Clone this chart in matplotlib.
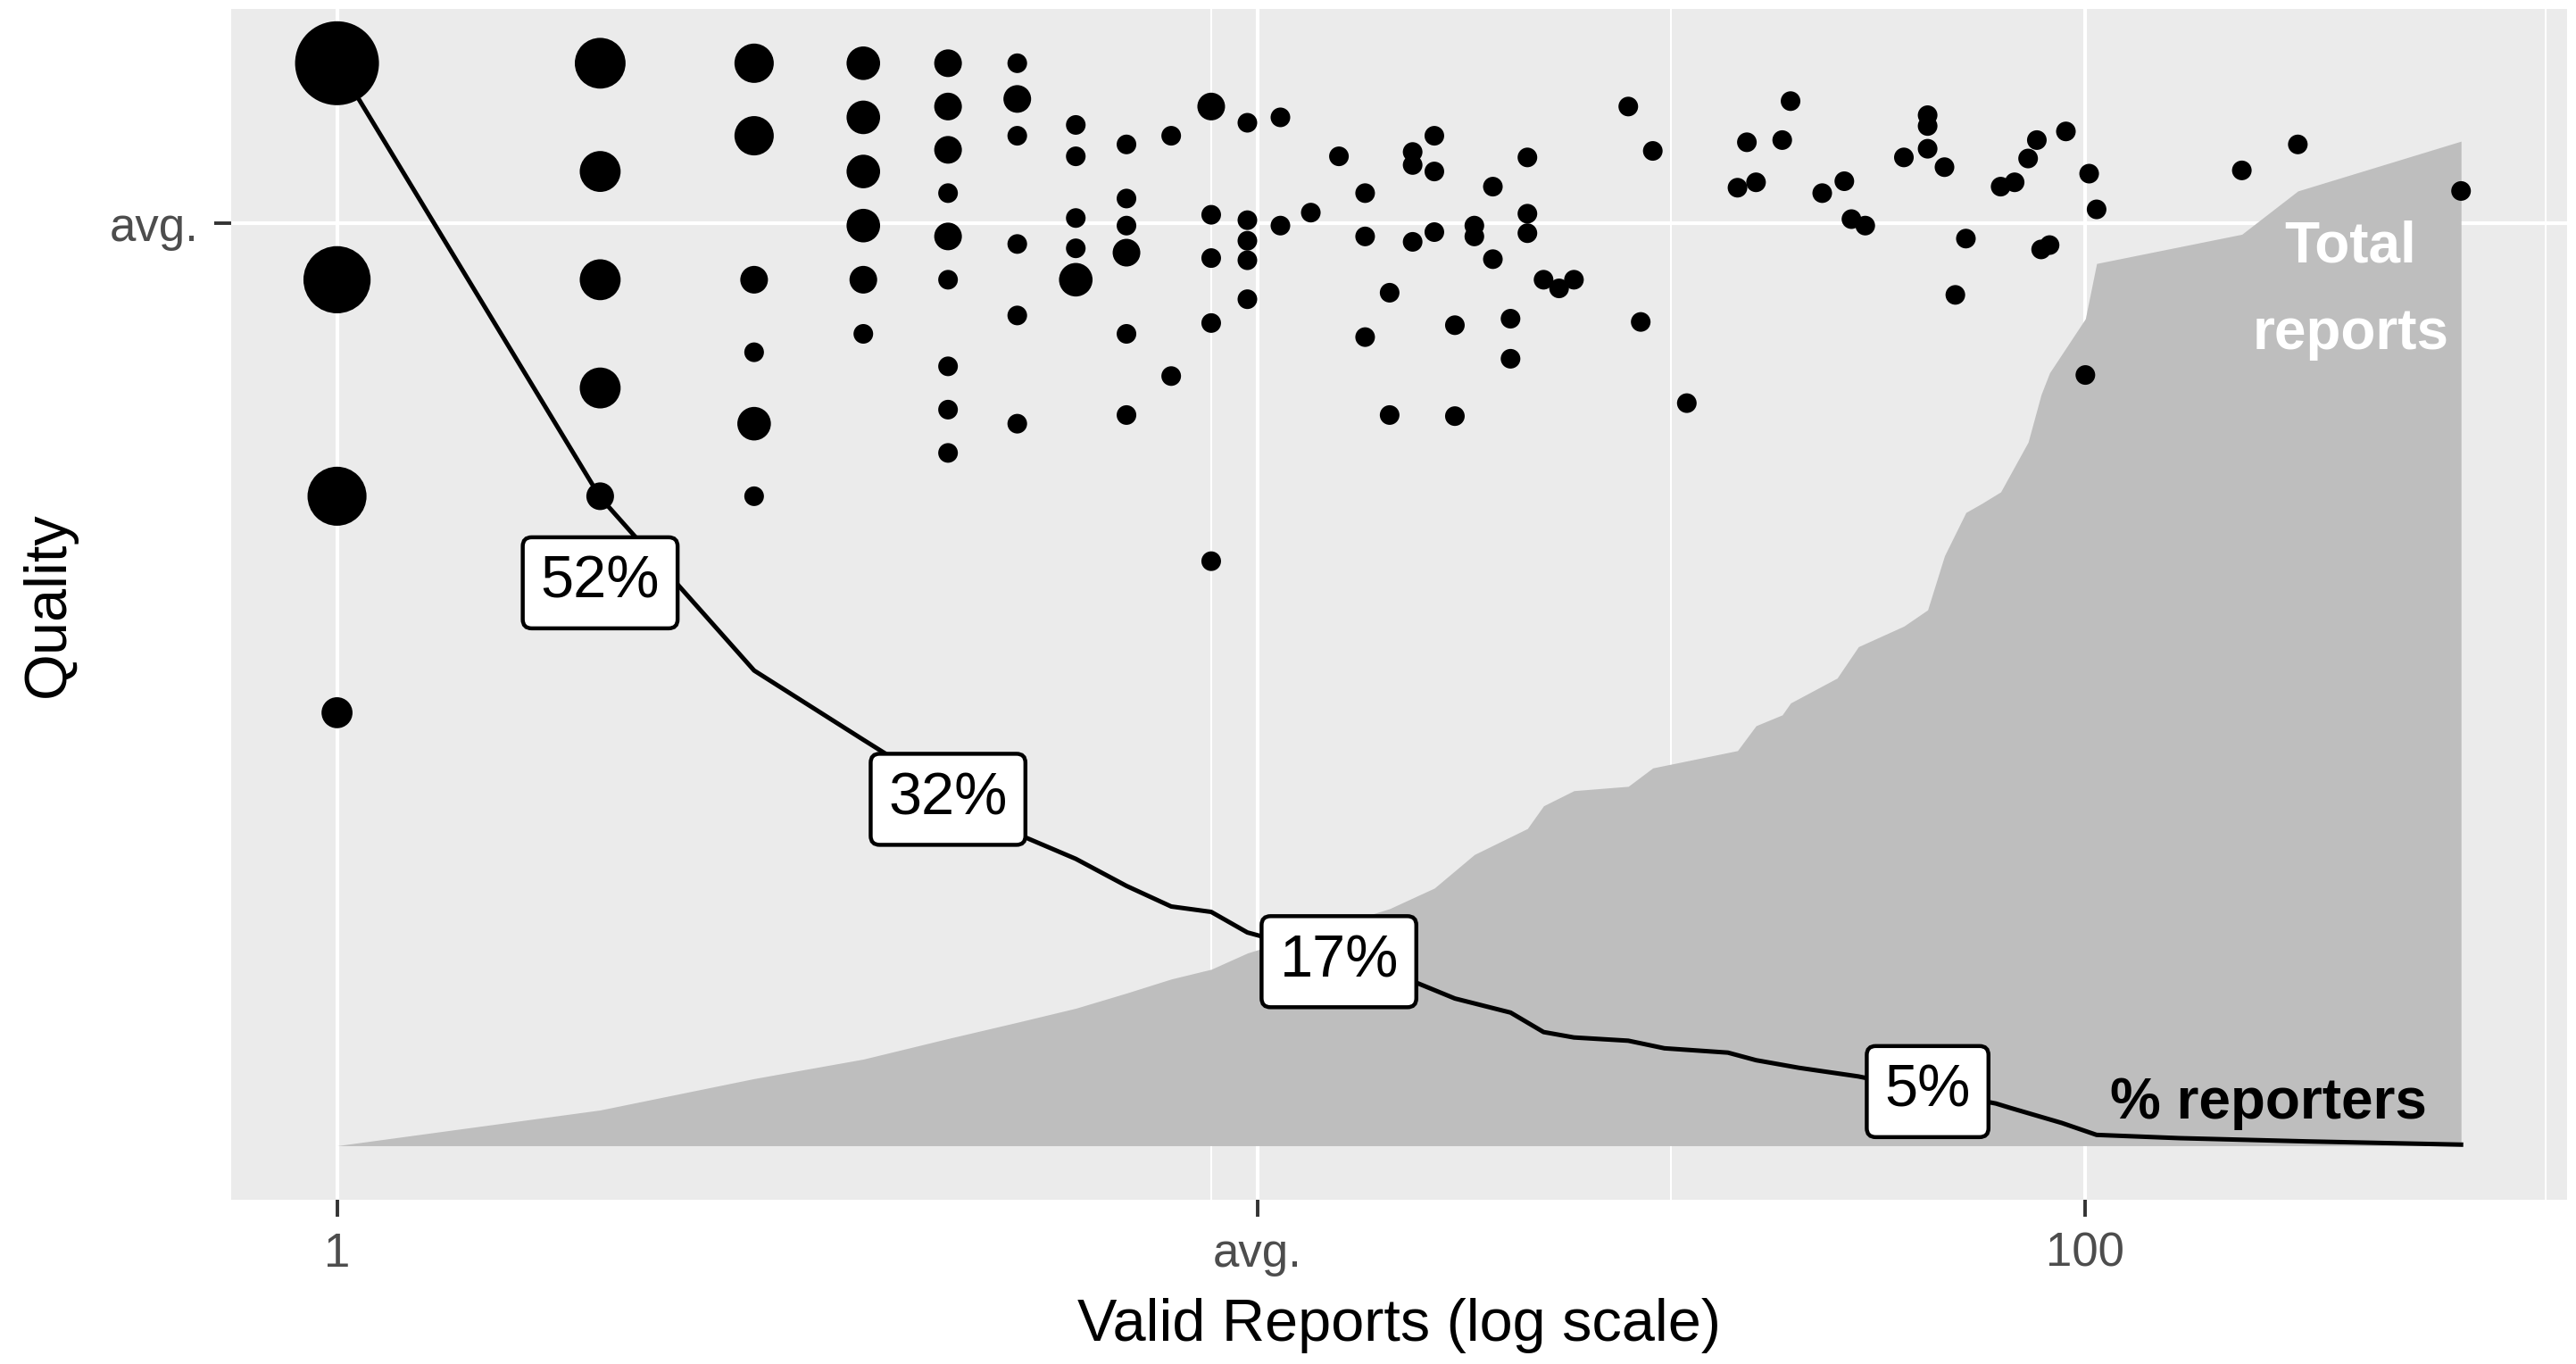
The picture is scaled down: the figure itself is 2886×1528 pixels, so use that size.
import numpy as np
import matplotlib
matplotlib.use("Agg")
import matplotlib.pyplot as plt
from matplotlib.ticker import FixedLocator, FixedFormatter, NullFormatter

# ---------------- data ----------------
# scatter: reporters grouped by (valid reports, quality); n = number of reporters
pt_x = [1, 1, 1, 1,
        2, 2, 2, 2, 2,
        3, 3, 3, 3, 3, 3,
        4, 4, 4, 4, 4, 4,
        5, 5, 5, 5, 5, 5, 5, 5, 5,
        6, 6, 6, 6, 6, 6,
        7, 7, 7, 7, 7,
        8, 8, 8, 8, 8, 8,
        9, 9,
        10, 10, 10, 10, 10,
        11, 11, 11, 11, 11,
        12, 12, 13, 14, 15, 15, 15, 16, 16,
        17, 17, 17, 18, 18, 18, 19, 19, 20, 20, 21, 21, 22, 22,
        23, 23, 23, 24, 25, 26, 30, 31, 32, 35, 40, 41, 42, 45, 46,
        50, 53, 54, 56, 62, 66, 66, 66, 69, 71, 73, 80, 83, 86, 88,
        89, 91, 95, 100, 101, 103, 151, 175, 269]
pt_q = [100, 80, 60, 40,
        100, 90, 80, 70, 60,
        100, 93.3, 80, 73.3, 66.7, 60,
        100, 95, 90, 85, 80, 75,
        100, 96, 92, 88, 84, 80, 72, 68, 64,
        100, 96.7, 93.3, 83.3, 76.7, 66.7,
        94.3, 91.4, 85.7, 82.9, 80,
        92.5, 87.5, 85, 82.5, 75, 67.5,
        93.3, 71.1,
        96, 86, 82, 76, 54,
        94.5, 85.5, 83.6, 81.8, 78.2,
        95, 85, 86.2, 91.4, 88, 84, 74.7, 78.8, 67.5,
        91.8, 90.6, 83.5, 93.3, 90, 84.4, 75.8, 67.4, 85, 84, 88.6, 81.9, 76.4, 72.7,
        91.3, 86.1, 84.3, 80, 79.2, 80, 96, 76.1, 91.9, 68.6, 88.5, 92.7, 89, 92.9, 96.5,
        88, 89.1, 85.6, 85, 91.3, 95.2, 94.2, 92.1, 90.4, 78.6, 83.8, 88.6, 89, 91.2, 92.9,
        82.8, 83.2, 93.7, 71.2, 89.8, 86.5, 90.1, 92.5, 88.2]
pt_n = [65, 36, 25, 3,
        16, 8, 8, 8, 2,
        7, 7, 2, 1, 4, 1,
        4, 4, 4, 4, 2, 1,
        2, 2, 2, 1, 2, 1, 1, 1, 1,
        1, 2, 1, 1, 1, 1,
        1, 1, 1, 1, 4,
        1, 1, 1, 2, 1, 1,
        1, 1,
        2, 1, 1, 1, 1,
        1, 1, 1, 1, 1,
        1, 1, 1, 1, 1, 1, 1, 1, 1,
        1, 1, 1, 1, 1, 1, 1, 1, 1, 1, 1, 1, 1, 1,
        1, 1, 1, 1, 1, 1, 1, 1, 1, 1, 1, 1, 1, 1, 1,
        1, 1, 1, 1, 1, 1, 1, 1, 1, 1, 1, 1, 1, 1, 1,
        1, 1, 1, 1, 1, 1, 1, 1, 1]

# % of reporters (line)
line_x = [1, 2, 3, 4, 5, 6, 7, 8, 9, 10, 11, 13, 15, 17, 19, 22, 24, 26, 30,
          33, 39, 42, 47, 55, 65, 79, 82, 94, 103, 128, 179, 269]
line_y = [100, 59.9, 43.9, 37.5, 32.6, 28.8, 26.5, 24.0, 22.1, 21.6, 19.7, 18.1,
          16.7, 15.2, 13.6, 12.3, 10.5, 10.0, 9.7, 9.0, 8.6, 7.9, 7.2, 6.4, 5.2,
          3.9, 3.5, 2.1, 1.0, 0.7, 0.4, 0.1]

# share of total reports (area)
area_x = [1, 2, 3, 4, 5, 6, 7, 8, 9, 10, 11, 16, 18, 20, 23, 24, 26, 30, 32, 40,
          42, 45, 46, 52, 55, 62, 66, 69, 73, 76, 80, 86, 89, 91, 100, 103, 151,
          175, 269]
area_y = [0, 3.3, 6.2, 8.0, 9.9, 11.4, 12.7, 14.1, 15.4, 16.3, 17.8, 21.9, 23.8,
          26.9, 29.3, 31.4, 32.8, 33.2, 34.9, 36.5, 38.8, 39.8, 40.9, 43.2, 46.1,
          48.0, 49.5, 54.5, 58.5, 59.3, 60.4, 65.0, 69.4, 71.4, 76.4, 81.5, 84.2,
          88.2, 92.8]

label_x = [2, 5, 14, 66]
label_y = [52, 32, 17, 5]
label_text = ["52%", "32%", "17%", "5%"]

avg_reports = 11.29
avg_quality = 85.2
x_tick_values = [1, avg_reports, 100]
x_tick_labels = ["1", "avg.", "100"]
y_tick_values = [avg_quality]
y_tick_labels = ["avg."]

# ---------------- figure ----------------
W, H, DPI = 2886, 1528, 200
plt.rcParams["font.family"] = ["Liberation Sans", "DejaVu Sans"]
fig = plt.figure(figsize=(W / DPI, H / DPI), dpi=DPI)
fig.patch.set_facecolor("white")

left_px, right_px, top_px, bot_px = 258.6, 2876.2, 10.2, 1344.1
ax = fig.add_axes([left_px / W, 1 - bot_px / H, (right_px - left_px) / W, (bot_px - top_px) / H])
ax.set_facecolor("#EBEBEB")
ax.set_xscale("log")

# limits with ggplot-style 5% expansion
lx = np.log10([min(pt_x), max(pt_x)])
span = lx[1] - lx[0]
ax.set_xlim(10 ** (lx[0] - 0.05 * span), 10 ** (lx[1] + 0.05 * span))
ax.set_ylim(-5, 105)

for s in ax.spines.values():
    s.set_visible(False)

# ticks and grid
ax.xaxis.set_major_locator(FixedLocator(x_tick_values))
ax.xaxis.set_major_formatter(FixedFormatter(x_tick_labels))
lt = np.log10(x_tick_values)
minor = [10 ** ((lt[0] + lt[2]) / 2), 10 ** ((lt[1] + lt[2]) / 2),
         10 ** (lt[2] + (lt[1] - lt[0]) * 0.5)]
ax.xaxis.set_minor_locator(FixedLocator(minor))
ax.xaxis.set_minor_formatter(NullFormatter())
ax.yaxis.set_major_locator(FixedLocator(y_tick_values))
ax.yaxis.set_major_formatter(FixedFormatter(y_tick_labels))
ax.yaxis.set_minor_locator(FixedLocator([]))

ax.tick_params(which="major", length=6.8, width=1.4, color="#333333",
               labelcolor="#4D4D4D", labelsize=19, pad=6)
ax.tick_params(which="minor", length=0)
ax.set_axisbelow(True)
ax.grid(which="major", color="white", lw=1.5)
ax.grid(which="minor", axis="x", color="white", lw=0.75)

# area
ax.fill_between(area_x, 0, area_y, color="#BEBEBE", lw=0, zorder=1)

# points
n_arr = np.array(pt_n, dtype=float)
d_px = 22 + 72 * np.sqrt((n_arr - 1) / (n_arr.max() - 1))
d_pt = d_px * 72 / DPI
ax.scatter(pt_x, pt_q, s=d_pt ** 2, c="black", lw=0, zorder=2)

# line
ax.plot(line_x, line_y, color="black", lw=1.8, zorder=3, solid_joinstyle="round")

# labels
for x, y, t in zip(label_x, label_y, label_text):
    ax.text(x, y, t, ha="center", va="center", fontsize=24, zorder=4,
            bbox=dict(boxstyle="round,pad=0.3,rounding_size=0.15", fc="white",
                      ec="black", lw=1.6))

ax.text(201, 79.0, "Total\nreports", color="white", fontweight="bold",
        fontsize=23, ha="center", va="center", linespacing=1.8, zorder=4)
ax.text(162, 2.55, "% reporters", color="black", fontweight="bold",
        fontsize=23, ha="center", va="baseline", zorder=4)

ax.set_xlabel("Valid Reports (log scale)", fontsize=24, color="black")
ax.xaxis.label.set_va("baseline")
ax.xaxis.set_label_coords(0.5, -(1502 - bot_px) / (bot_px - top_px))
ax.set_ylabel("Quality", fontsize=24, color="black")
ax.yaxis.label.set_va("center")
ax.yaxis.set_label_coords(-(left_px - 55) / (right_px - left_px), 0.5)

fig.savefig("out.png", dpi=DPI)
